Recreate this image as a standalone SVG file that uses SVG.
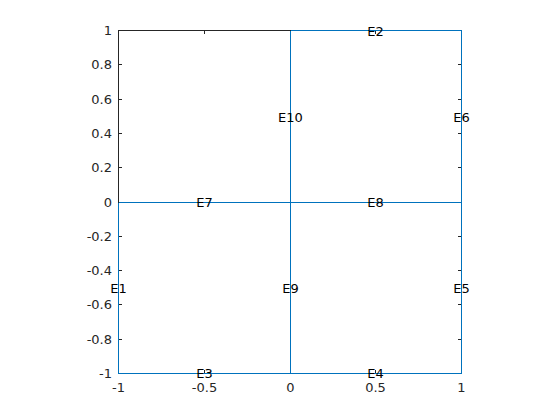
<svg xmlns="http://www.w3.org/2000/svg" width="560" height="420" viewBox="0 0 560 420">
<style>
.ax{stroke:#262626;stroke-width:1;fill:none;shape-rendering:crispEdges}
.tk{stroke:#262626;stroke-width:1;shape-rendering:crispEdges}
.tl{font-family:"DejaVu Sans",sans-serif;font-size:13px;fill:#262626}
.yl{text-anchor:end}
.xl{text-anchor:middle}
.e{stroke:#0072BD;stroke-width:1;fill:none;shape-rendering:crispEdges}
.lb{font-family:"DejaVu Sans",sans-serif;font-size:13px;fill:#000;text-anchor:middle;dominant-baseline:central}
</style>
<rect width="560" height="420" fill="#fff"/>
<g id="axes">
<rect class="ax" x="118.5" y="30.5" width="343" height="343"/>
<g class="tk">
<path d="M118.5 373.5h3.5M118.5 339.5h3.5M118.5 304.5h3.5M118.5 270.5h3.5M118.5 236.5h3.5M118.5 202.5h3.5M118.5 167.5h3.5M118.5 133.5h3.5M118.5 99.5h3.5M118.5 64.5h3.5M118.5 30.5h3.5"/>
<path d="M461.5 373.5h-3.5M461.5 339.5h-3.5M461.5 304.5h-3.5M461.5 270.5h-3.5M461.5 236.5h-3.5M461.5 202.5h-3.5M461.5 167.5h-3.5M461.5 133.5h-3.5M461.5 99.5h-3.5M461.5 64.5h-3.5M461.5 30.5h-3.5"/>
<path d="M118.5 373.5v-3.5M204.5 373.5v-3.5M290.5 373.5v-3.5M375.5 373.5v-3.5M461.5 373.5v-3.5"/>
<path d="M118.5 30.5v3.5M204.5 30.5v3.5M290.5 30.5v3.5M375.5 30.5v3.5M461.5 30.5v3.5"/>
</g>
<g class="tl yl">
<text x="112" y="378">-1</text>
<text x="112" y="344">-0.8</text>
<text x="112" y="309">-0.6</text>
<text x="112" y="275">-0.4</text>
<text x="112" y="241">-0.2</text>
<text x="112" y="207">0</text>
<text x="112" y="172">0.2</text>
<text x="112" y="138">0.4</text>
<text x="112" y="104">0.6</text>
<text x="112" y="69">0.8</text>
<text x="112" y="35">1</text>
</g>
<g class="tl xl">
<text x="118.5" y="392">-1</text>
<text x="204.5" y="392">-0.5</text>
<text x="290.5" y="392">0</text>
<text x="375.5" y="392">0.5</text>
<text x="461.5" y="392">1</text>
</g>
</g>
<g id="connectors" class="e">
<path d="M118.5 202.5V373.5"/>
<path d="M290.5 30.5H461.5"/>
<path d="M118.5 373.5H461.5"/>
<path d="M461.5 30.5V373.5"/>
<path d="M118.5 202.5H461.5"/>
<path d="M290.5 30.5V373.5"/>
</g>
<g id="E1"><text class="lb" x="118.5" y="288">E1</text></g>
<g id="E2"><text class="lb" x="375.5" y="31">E2</text></g>
<g id="E3"><text class="lb" x="204.5" y="373.5">E3</text></g>
<g id="E4"><text class="lb" x="375.5" y="373.5">E4</text></g>
<g id="E5"><text class="lb" x="461.5" y="288">E5</text></g>
<g id="E6"><text class="lb" x="461.5" y="117">E6</text></g>
<g id="E7"><text class="lb" x="204.5" y="202.5">E7</text></g>
<g id="E8"><text class="lb" x="375.5" y="202.5">E8</text></g>
<g id="E9"><text class="lb" x="290.5" y="288">E9</text></g>
<g id="E10"><text class="lb" x="290.5" y="117">E10</text></g>
</svg>
